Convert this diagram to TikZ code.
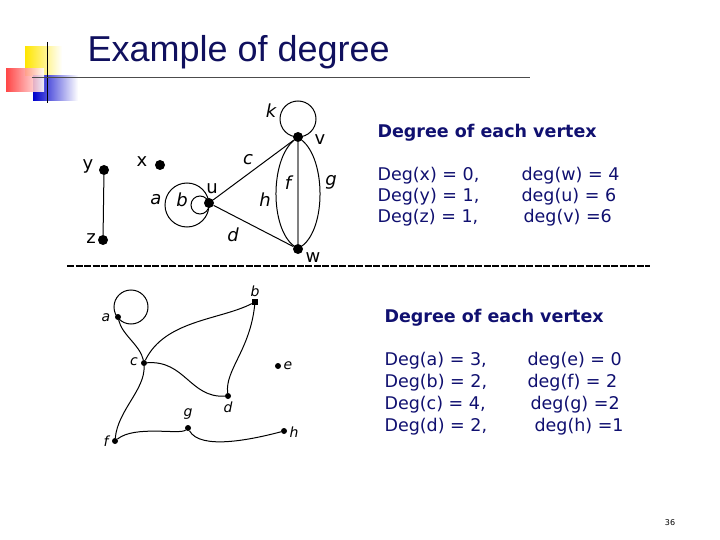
\documentclass[tikz,border=0pt]{standalone}
\usepackage{fontspec}
\setmainfont{DejaVu Sans}
\newfontfamily\titlefont{Liberation Sans}
\usetikzlibrary{shapes.geometric}
\definecolor{navy}{HTML}{10105E}
\definecolor{txtblue}{HTML}{101070}
\begin{document}
\begin{tikzpicture}[x=1pt,y=-1pt,
  dot/.style={circle,fill=black,inner sep=0pt,minimum size=10pt},
  sdot/.style={circle,fill=black,inner sep=0pt,minimum size=6pt},
  sq/.style={rectangle,fill=black,inner sep=0pt,minimum size=6pt},
  lab/.style={font=\fontsize{18}{18}\selectfont\itshape},
  ulab/.style={font=\fontsize{18}{18}\selectfont},
  slab/.style={font=\fontsize{14}{14}\selectfont\itshape},
  info/.style={anchor=west,text=txtblue,font=\fontsize{17.5}{17.5}\selectfont},
  edge/.style={line width=1pt}]
\useasboundingbox (0,0) rectangle (720,540);
\fill[white] (0,0) rectangle (720,540);
% logo
\shade[left color=yellow!80!orange,right color=white] (25,47) rectangle (62,76);
\shade[left color=blue!80!black,right color=white] (33,76) rectangle (78,101);
\shade[left color=red!80,right color=white,opacity=0.9] (6,69) rectangle (44,92);
\draw[line width=1pt] (47,42) -- (47,103);
\draw[line width=1pt,black!70] (32,78) -- (530,78);
\node[anchor=west,text=navy,font=\titlefont\fontsize{36}{36}\selectfont] (title) at (84,52) {Example of degree};
% graph 1
\node[dot] (y) at (104,170) {};
\node[dot] (z) at (103,240) {};
\node[dot] (x) at (160,165) {};
\node[dot] (u) at (209,203) {};
\node[dot] (v) at (298,137) {};
\node[dot] (w) at (298,249) {};
\draw[edge] (y) -- (z);
\draw[edge] (u) -- (v);
\draw[edge] (u) -- (w);
\draw[line width=1.5pt,black!50] (v) -- (w);
\draw[edge] (v) .. controls (270,160) and (270,228) .. (w);
\draw[edge] (v) .. controls (326,160) and (326,228) .. (w);
\draw[edge] (298,119) circle (18);
\draw[edge] (187,205) circle (22);
\draw[edge] (200,205) circle (9);
\node[lab] (lk) at (271,111) {k};
\node[ulab] (lv) at (320,140) {v};
\node[lab] (lc) at (248,160) {c};
\node[lab] (lf) at (288,183) {f};
\node[lab] (lg) at (331,182) {g};
\node[lab] (lh) at (265,200) {h};
\node[lab] (la) at (156,200) {a};
\node[lab] (lb) at (182,200) {b};
\node[ulab] (lu) at (212,189) {u};
\node[lab] (ld) at (233,235) {d};
\node[ulab] (lw) at (313,258) {w};
\node[ulab] (lx) at (142,162) {x};
\node[ulab] (ly) at (88,166) {y};
\node[ulab] (lz) at (91,239) {z};
% divider
\coordinate (d1) at (67,266); \coordinate (d2) at (650,266);
\draw[line width=2.5pt,dash pattern=on 7pt off 1.5pt] (d1) -- (d2);
% graph 2
\node[sdot] (a) at (118,317) {};
\node[sq] (b) at (255,302) {};
\node[sdot] (c) at (144,363) {};
\node[sdot] (e) at (278,366) {};
\node[sdot] (d) at (228,396) {};
\node[sdot] (g) at (188,428) {};
\node[sdot] (f) at (115,441) {};
\node[sdot] (h) at (284,431) {};
\draw[edge] (131,307) circle (17);
\draw[edge] (a) .. controls (122,335) and (140,345) .. (c);
\draw[edge] (c) .. controls (165,320) and (220,320) .. (b);
\draw[edge] (c) .. controls (185,360) and (190,398) .. (d);
\draw[edge] (b) .. controls (250,350) and (225,370) .. (d);
\draw[edge] (c) .. controls (145,390) and (118,410) .. (f);
\draw[edge] (f) .. controls (135,425) and (180,435) .. (g);
\draw[edge] (g) .. controls (200,450) and (250,440) .. (h);
\node[slab] (l2a) at (106,318) {a};
\node[slab] (l2b) at (255,291) {b};
\node[slab] (l2c) at (134,362) {c};
\node[slab] (l2e) at (288,366) {e};
\node[slab] (l2d) at (228,407) {d};
\node[slab] (l2g) at (188,414) {g};
\node[slab] (l2f) at (106,441) {f};
\node[slab] (l2h) at (294,432) {h};
% text block 1
\node[info,font=\bfseries\fontsize{17.5}{17.5}\selectfont] (h1) at (374,133) {Degree of each vertex};
\node[info] (t1) at (374,176) {Deg(x) = 0,};
\node[info] (t2) at (374,197) {Deg(y) = 1,};
\node[info] (t3) at (374,218) {Deg(z) = 1,};
\node[info] (t4) at (518,176) {deg(w) = 4};
\node[info] (t5) at (518,197) {deg(u) = 6};
\node[info] (t6) at (520,218) {deg(v) =6};
% text block 2
\node[info,font=\bfseries\fontsize{17.5}{17.5}\selectfont] (h2) at (381,318) {Degree of each vertex};
\node[info] (s1) at (381,361) {Deg(a) = 3,};
\node[info] (s2) at (381,383) {Deg(b) = 2,};
\node[info] (s3) at (381,405) {Deg(c) = 4,};
\node[info] (s4) at (381,427) {Deg(d) = 2,};
\node[info] (s5) at (524,361) {deg(e) = 0};
\node[info] (s6) at (524,383) {deg(f) = 2};
\node[info] (s7) at (527,405) {deg(g) =2};
\node[info] (s8) at (531,427) {deg(h) =1};
\node[font=\fontsize{8}{8}\selectfont] (pg) at (670,523) {36};
\end{tikzpicture}
\end{document}
